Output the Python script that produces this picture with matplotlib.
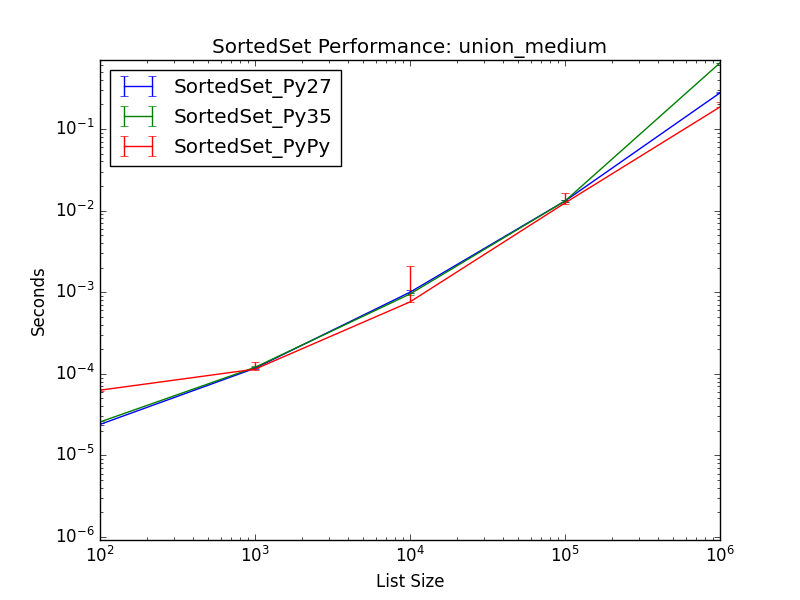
import matplotlib
matplotlib.use("Agg")
import matplotlib.pyplot as plt
import numpy as np

plt.style.use("classic")

sizes = [100, 1000, 10000, 100000, 1000000]

# median timings and (min, max) spread
py27_med = [2.4e-5, 1.17e-4, 1.0e-3, 1.31e-2, 0.277]
py27_min = [2.35e-5, 1.15e-4, 0.98e-3, 1.29e-2, 0.275]
py27_max = [2.5e-5, 1.2e-4, 1.06e-3, 1.34e-2, 0.28]

py35_med = [2.57e-5, 1.2e-4, 9.5e-4, 1.31e-2, 0.645]
py35_min = [2.5e-5, 1.18e-4, 9.3e-4, 1.29e-2, 0.64]
py35_max = [2.65e-5, 1.24e-4, 9.8e-4, 1.34e-2, 0.65]

pypy_med = [6.3e-5, 1.14e-4, 7.6e-4, 1.24e-2, 0.186]
pypy_min = [6.2e-5, 1.12e-4, 7.5e-4, 1.22e-2, 0.184]
pypy_max = [6.5e-5, 1.4e-4, 2.1e-3, 1.64e-2, 0.214]

series = [
    ("SortedSet_Py27", "b", py27_med, py27_min, py27_max),
    ("SortedSet_Py35", "g", py35_med, py35_min, py35_max),
    ("SortedSet_PyPy", "r", pypy_med, pypy_min, pypy_max),
]

fig, ax = plt.subplots(figsize=(8, 6), dpi=100)

for name, color, med, lo, hi in series:
    med = np.array(med)
    yerr = [med - np.array(lo), np.array(hi) - med]
    ax.errorbar(sizes, med, yerr=yerr, color=color, label=name)

ax.set_xscale("log")
ax.set_yscale("log")
ax.set_xlim(100, 1e6)
ax.set_ylim(9.2e-7, 0.70)
ax.set_title("SortedSet Performance: union_medium")
ax.set_xlabel("List Size")
ax.set_ylabel("Seconds")
ax.legend(loc="upper left")

fig.savefig("out.png", dpi=100)
